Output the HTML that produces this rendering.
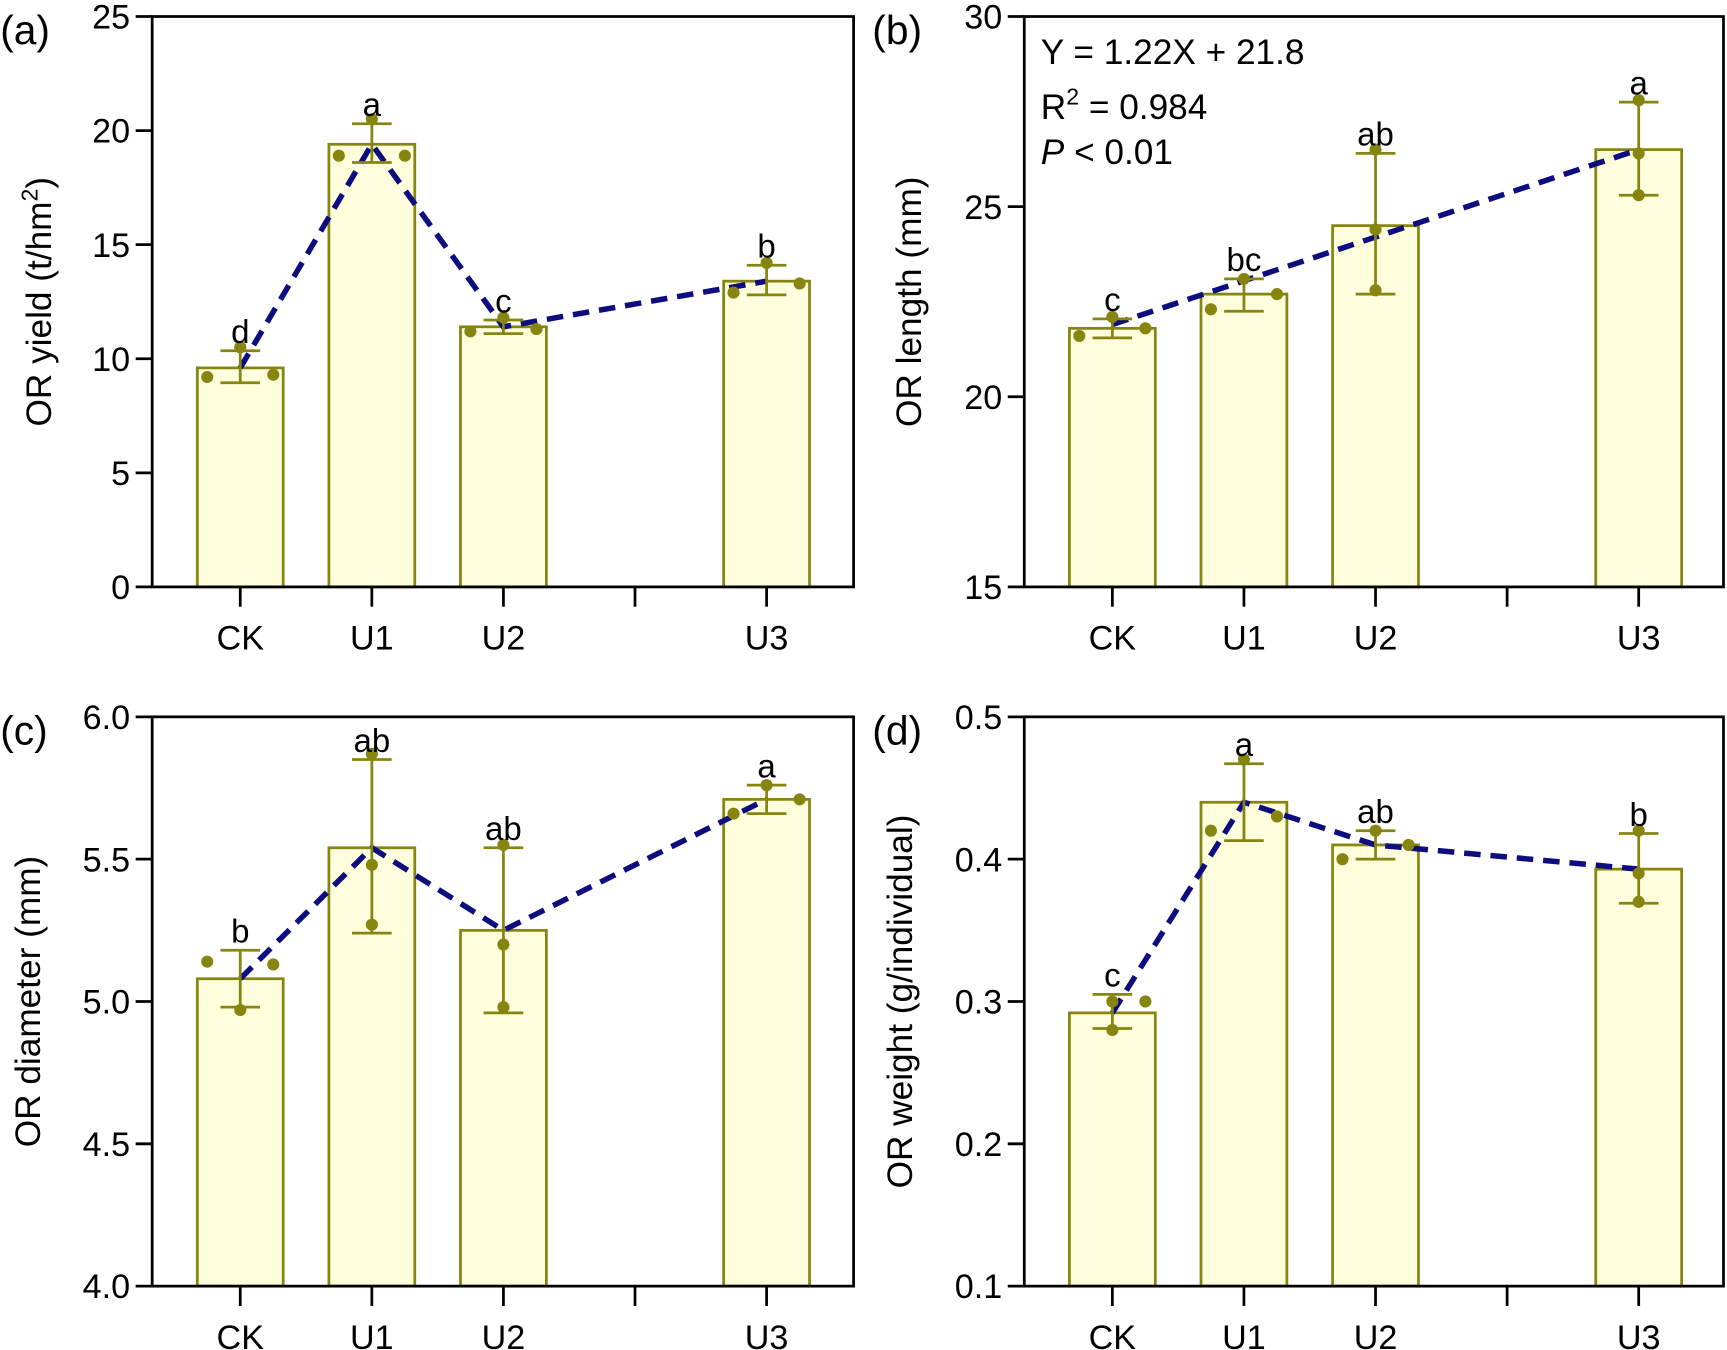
<!DOCTYPE html>
<html><head><meta charset="utf-8"><style>
html,body{margin:0;padding:0;background:#fff;}
svg{display:block;font-family:"Liberation Sans",Arial,sans-serif;}
</style></head><body>
<svg id="chart" width="1727" height="1350" viewBox="0 0 1568 1226"></svg>
<script>
const categories = ["CK","U1","U2","U3"];
const slots = [0,1,2,4];
// panel a
const aMeans = [9.6,19.4,11.4,13.4];
const aLo = [8.95,18.6,11.1,12.8];
const aHi = [10.35,20.3,11.7,14.1];
const aPts = [[9.2,10.5,9.3],[18.9,20.5,18.9],[11.2,11.8,11.3],[12.9,14.2,13.3]];
const aLetters = ["d","a","c","b"];
const aTicks = [0,5,10,15,20,25];
// panel b
const bMeans = [21.8,22.7,24.5,26.5];
const bLo = [21.55,22.25,22.7,25.3];
const bHi = [22.05,23.1,26.4,27.75];
const bPts = [[21.6,22.1,21.8],[22.3,23.1,22.7],[22.8,24.4,26.5],[25.3,26.4,27.8]];
const bFit = [21.9,23.05,24.2,26.5];
const bLetters = ["c","bc","ab","a"];
const bTicks = [15,20,25,30];
// panel c
const cMeans = [5.08,5.54,5.25,5.71];
const cLo = [4.98,5.24,4.96,5.66];
const cHi = [5.18,5.85,5.54,5.76];
const cPts = [[5.14,4.97,5.13],[5.87,5.48,5.27],[5.55,5.20,4.98],[5.66,5.76,5.71]];
const cLetters = ["b","ab","ab","a"];
const cTicks = [4.0,4.5,5.0,5.5,6.0];
// panel d
const dMeans = [0.292,0.44,0.41,0.393];
const dLo = [0.281,0.413,0.40,0.369];
const dHi = [0.305,0.467,0.42,0.418];
const dPts = [[0.30,0.28,0.30],[0.42,0.47,0.43],[0.40,0.42,0.41],[0.42,0.39,0.37]];
const dLetters = ["c","a","ab","b"];
const dTicks = [0.1,0.2,0.3,0.4,0.5];

const NS="http://www.w3.org/2000/svg";
const svg=document.getElementById("chart");
function mk(tag,attrs,parent,text){const e=document.createElementNS(NS,tag);for(const k in attrs)e.setAttribute(k,attrs[k]);if(text!==undefined)e.textContent=text;(parent||svg).appendChild(e);return e;}
const OL="#858510", FILL="#fefddc", NAVY="#0d0d7f";

function panel(o){
  const g=mk("g",{});
  
  
  const x0=o.x0,x1=o.x1,yT=o.yT,yB=o.yB;
  const ys=v=>yB-(v-o.min)/(o.max-o.min)*(yB-yT);
  const xs=i=>x0+80+slots[i]*119.5;
  categories.forEach((c,i)=>{
    const r=mk("rect",{x:xs(i)-39,y:ys(o.means[i]),width:78,height:yB-ys(o.means[i]),fill:FILL,stroke:OL,"stroke-width":2.5},g);
    
    
  });
  const lv=o.fit||o.means;
  const pl=mk("polyline",{points:lv.map((v,i)=>xs(i)+","+ys(v)).join(" "),fill:"none",stroke:NAVY,"stroke-width":5,"stroke-dasharray":"15 9"},g);
  
  
  categories.forEach((c,i)=>{
    const x=xs(i);
    const eb=mk("path",{d:`M${x},${ys(o.lo[i])}V${ys(o.hi[i])}M${x-18},${ys(o.lo[i])}h36M${x-18},${ys(o.hi[i])}h36`,stroke:OL,"stroke-width":2.5,fill:"none"},g);
    
    
    o.pts[i].forEach((v,j)=>{
      const p=mk("circle",{cx:x+o.dx[i][j],cy:ys(v),r:5.5,fill:OL},g);
      
      
    });
    const t=mk("text",{x:x,y:ys(o.hi[i])-7,"text-anchor":"middle","font-size":30},g,o.letters[i]);
    
    
  });
  const f=mk("rect",{x:x0,y:yT,width:x1-x0,height:yB-yT,fill:"none",stroke:"#000","stroke-width":2.5},g);
  
  
  o.ticks.forEach(v=>{
    mk("line",{x1:x0-15,x2:x0,y1:ys(v),y2:ys(v),stroke:"#000","stroke-width":2.5},g);
    const t=mk("text",{x:x0-20,y:ys(v)+11,"text-anchor":"end","font-size":31},g,o.fmt(v));
    
    
  });
  for(let s=0;s<5;s++){mk("line",{x1:x0+80+s*119.5,x2:x0+80+s*119.5,y1:yB,y2:yB+18,stroke:"#000","stroke-width":2.5},g);}
  categories.forEach((c,i)=>{
    const t=mk("text",{x:xs(i),y:yB+57,"text-anchor":"middle","font-size":31},g,c);
    
    
  });
  const yt=mk("text",{transform:`translate(${o.tx},${(yT+yB)/2}) rotate(-90)`,"text-anchor":"middle","font-size":32},g);
  yt.innerHTML=o.title;
  
  
  const pl2=mk("text",{x:o.lx,y:yT+25,"font-size":37},g,o.label);
  
  
  return g;
}
const off3=[[-30,0,30],[-30,0,30],[-30,0,30],[-30,0,30]];
const f0=v=>String(v), f1=v=>v.toFixed(1);
panel({name:"panel-a",x0:138,x1:775,yT:15,yB:533,min:0,max:25,means:aMeans,lo:aLo,hi:aHi,pts:aPts,dx:off3,letters:aLetters,ticks:aTicks,fmt:f0,tx:46,title:'OR yield (t/hm<tspan dy="-12" font-size="21">2</tspan><tspan dy="12">)</tspan>',label:"(a)",lx:0});
panel({name:"panel-b",x0:930,x1:1565,yT:15,yB:533,min:15,max:30,means:bMeans,lo:bLo,hi:bHi,pts:bPts,dx:[[-30,0,30],[-30,0,30],[0,0,0],[0,0,0]],fit:bFit,letters:bLetters,ticks:bTicks,fmt:f0,tx:836,title:"OR length (mm)",label:"(b)",lx:792});
panel({name:"panel-c",x0:138,x1:775,yT:651,yB:1168,min:4,max:6,means:cMeans,lo:cLo,hi:cHi,pts:cPts,dx:[[-30,0,30],[0,0,0],[0,0,0],[-30,0,30]],letters:cLetters,ticks:cTicks,fmt:f1,tx:36,title:"OR diameter (mm)",label:"(c)",lx:0});
panel({name:"panel-d",x0:930,x1:1565,yT:651,yB:1168,min:0.1,max:0.5,means:dMeans,lo:dLo,hi:dHi,pts:dPts,dx:[[0,0,30],[-30,0,30],[-30,0,30],[0,0,0]],letters:dLetters,ticks:dTicks,fmt:f1,tx:828,title:"OR weight (g/individual)",label:"(d)",lx:792});
const ann=mk("text",{x:945,y:58,"font-size":32});


ann.textContent="Y = 1.22X + 21.8";
const r2=mk("text",{x:945,y:108,"font-size":32});
r2.innerHTML='R<tspan dy="-13" font-size="21">2</tspan><tspan dy="13"> =  0.984</tspan>';


const pv=mk("text",{x:945,y:149,"font-size":32});
pv.innerHTML='<tspan font-style="italic">P</tspan> &lt; 0.01';


</script>
</body></html>
